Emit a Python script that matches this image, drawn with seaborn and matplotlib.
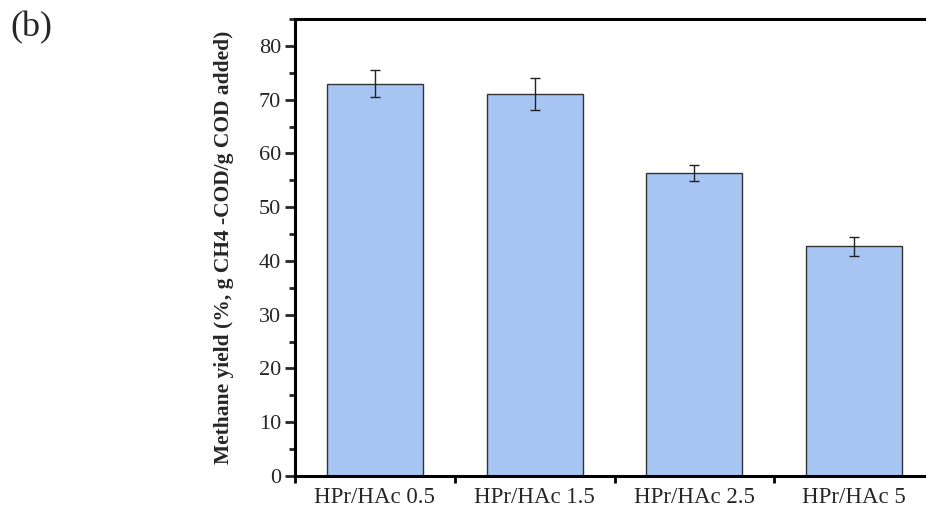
import matplotlib
matplotlib.use("Agg")
import matplotlib.pyplot as plt
import seaborn as sns
import numpy as np
from matplotlib.ticker import MultipleLocator, FixedLocator

categories = ["HPr/HAc 0.5", "HPr/HAc 1.5", "HPr/HAc 2.5", "HPr/HAc 5"]
yield_values = [73.0, 71.0, 56.3, 42.7]
yield_errors = [2.5, 3.0, 1.5, 1.7]
ylabel_text = "Methane yield (%, g CH4 -COD/g COD added)"

sns.set_theme(style="ticks")
plt.rcParams['font.family'] = ['Liberation Serif', 'DejaVu Serif']

W, H = 926, 508
fig = plt.figure(figsize=(W / 100, H / 100), dpi=100)
left, right, top, bottom = 295, 934, 19, 476
ax = fig.add_axes([left / W, (H - bottom) / H, (right - left) / W, (bottom - top) / H])

sns.barplot(x=categories, y=yield_values, color="#a7c5f3", saturation=1,
            width=0.6, edgecolor="#333333", linewidth=1.0, ax=ax)
ax.errorbar(x=np.arange(len(categories)), y=yield_values, yerr=yield_errors,
            fmt="none", ecolor="#222222", elinewidth=1.0, capsize=3.6, capthick=1.0)

ax.set_xlim(-0.5, len(categories) - 0.5)
ax.set_ylim(0, 85)
ax.yaxis.set_major_locator(MultipleLocator(10))
ax.yaxis.set_minor_locator(MultipleLocator(5))
ax.set_xticks(np.arange(len(categories)))
ax.set_xticklabels(categories, fontsize=16.5)
ax.xaxis.set_minor_locator(FixedLocator([-0.5, 0.5, 1.5, 2.5]))
ax.tick_params(axis="x", which="major", length=0, pad=8)
ax.tick_params(axis="x", which="minor", length=5, width=2, direction="out", color="black")
ax.tick_params(axis="y", which="major", length=7, width=2, direction="out", labelsize=16, pad=3)
ax.tick_params(axis="y", which="minor", length=4, width=2, direction="out")

for s in ["left", "bottom", "top", "right"]:
    ax.spines[s].set_linewidth(2.2)
    ax.spines[s].set_color("black")

ax.set_xlabel("")
ax.set_ylabel(ylabel_text, fontsize=15.5, fontweight="bold", labelpad=18)

fig.text(10 / W, 1 - 28 / H, "(b)", fontsize=26, va="center", ha="left")

fig.savefig("out.png", dpi=100)
